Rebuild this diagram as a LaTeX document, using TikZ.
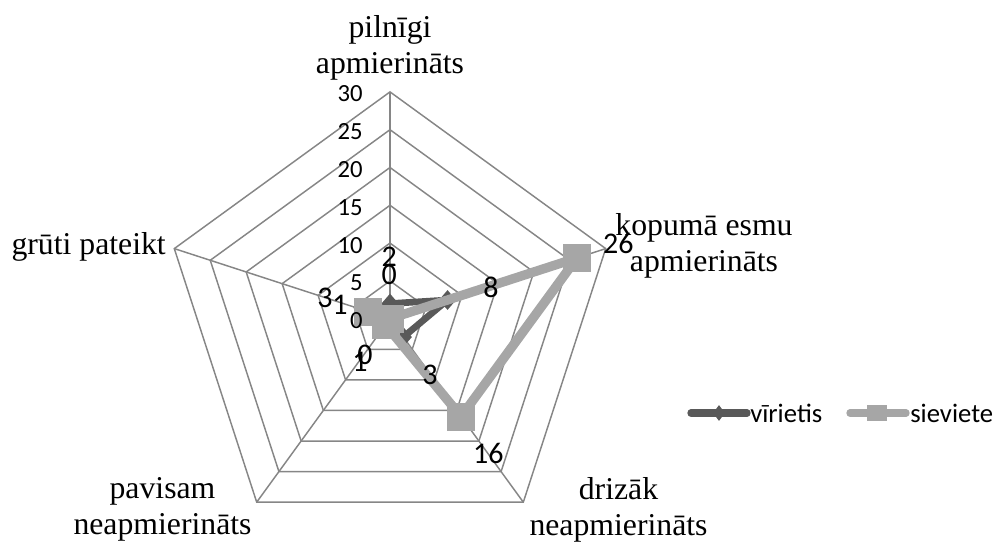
\documentclass[tikz,border=0pt]{standalone}
\usepackage{fontspec}
\setmainfont{Liberation Serif}
\newfontfamily\calibri{Carlito}
\usetikzlibrary{shapes.geometric}

\definecolor{gridgray}{HTML}{868686}
\definecolor{mandark}{HTML}{595959}
\definecolor{womanlight}{HTML}{A6A6A6}

\begin{document}
\begin{tikzpicture}[x=0.75pt, y=0.75pt,
grid/.style={draw=gridgray, line width=1.1pt},
category/.style={font=\fontsize{23.8pt}{27pt}\selectfont, align=center, inner sep=0pt},
ticklabel/.style={font=\calibri\fontsize{18.5pt}{20pt}\selectfont, anchor=east, inner sep=0pt},
datalabel/.style={font=\calibri\fontsize{22.5pt}{24pt}\selectfont, inner sep=0pt},
legendtext/.style={font=\calibri\fontsize{20pt}{22pt}\selectfont, anchor=west, inner sep=0pt},
series-dark/.style={draw=mandark, line width=5pt, line join=round},
series-light/.style={draw=womanlight, line width=7pt, line join=round},
mark-dark/.style={diamond, fill=mandark, minimum width=13pt, minimum height=15pt, inner sep=0pt},
mark-light/.style={rectangle, fill=womanlight, minimum size=21pt, inner sep=0pt}
]
\useasboundingbox (0,0) rectangle (994,542);

% radar grid
\begin{scope}[shift={(390,223.3)}]
\foreach \k in {1,...,6}
  \draw [grid] (90:37.8*\k) -- (18:37.8*\k) -- (-54:37.8*\k) -- (-126:37.8*\k)
    -- (162:37.8*\k) -- cycle;
\foreach \a in {90,18,-54,-126,162}
  \draw [grid] (0,0) -- (\a:226.8);

% data points
\coordinate (v-full) at (90:2*7.56);
\coordinate (v-overall) at (18:8*7.56);
\coordinate (v-rather) at (-54:3*7.56);
\coordinate (v-none) at (0,0);
\coordinate (v-hard) at (162:1*7.56);
\coordinate (s-full) at (0,0);
\coordinate (s-overall) at (18:26*7.56);
\coordinate (s-rather) at (-54:16*7.56);
\coordinate (s-none) at (-126:1*7.56);
\coordinate (s-hard) at (162:3*7.56);
\end{scope}

% series
\path [series-dark] (v-full) -- (v-overall) -- (v-rather) -- (v-none) -- (v-hard) -- cycle;
\foreach \p in {full,overall,rather,none,hard}
  \node [mark-dark] (vm-\p) at (v-\p) {};
\path [series-light] (s-full) -- (s-overall) -- (s-rather) -- (s-none) -- (s-hard) -- cycle;
\foreach \p in {full,overall,rather,none,hard}
  \node [mark-light] (sm-\p) at (s-\p) {};

% axis values
\foreach \v [count=\i from 0] in {0,5,...,30}
  \node [ticklabel] (tick-\v) at (363,221.3+37.8*\i) {\v};

% data labels
\node [datalabel] (lab-v-full) at (389.3,285.3) {2};
\node [datalabel] (lab-s-full) at (389.3,267) {0};
\node [datalabel] (lab-v-overall) at (491,254.7) {8};
\node [datalabel] (lab-s-overall) at (618.3,298.7) {26};
\node [datalabel] (lab-v-rather) at (430,167) {3};
\node [datalabel] (lab-s-rather) at (488.3,88.7) {16};
\node [datalabel] (lab-v-none) at (365,187) {0};
\node [datalabel] (lab-s-none) at (360,180.3) {1};
\node [datalabel] (lab-s-hard) at (325,243.7) {3};
\node [datalabel] (lab-v-hard) at (340,237) {1};

% categories
\node [category] (cat-full) at (390,494) {pilnīgi\\apmierināts};
\node [category] (cat-overall) at (704,296.5) {kopumā esmu\\apmierināts};
\node [category] (cat-rather) at (618.5,32.5) {drizāk\\neapmierināts};
\node [category] (cat-none) at (162.5,32.5) {pavisam\\neapmierināts};
\node [category, anchor=east] (cat-hard) at (166,295.3) {grūti pateikt};

% legend
\coordinate (leg-v-a) at (691,129);
\coordinate (leg-v-b) at (747,129);
\coordinate (leg-s-a) at (850,129);
\coordinate (leg-s-b) at (906,129);
\path [series-dark, line width=5.5pt, line cap=round] (leg-v-a) -- (leg-v-b);
\node [mark-dark, minimum width=9pt, minimum height=12pt] (leg-v-mark) at (719,129) {};
\node [legendtext] (leg-v-text) at (750,129) {vīrietis};
\path [series-light, line width=5.5pt, line cap=round] (leg-s-a) -- (leg-s-b);
\node [mark-light, minimum width=15pt, minimum height=12pt] (leg-s-mark) at (877,129) {};
\node [legendtext] (leg-s-text) at (910,129) {sieviete};
\end{tikzpicture}
\end{document}
